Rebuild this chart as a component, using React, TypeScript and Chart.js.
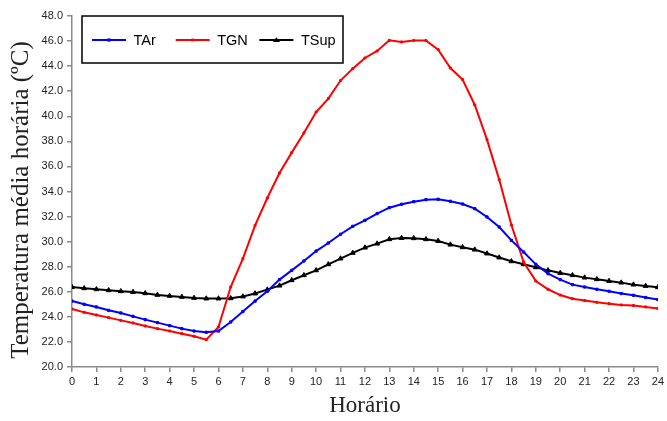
import React, { useEffect, useRef } from 'react';
import { Chart, registerables } from 'chart.js';

Chart.register(...registerables);

const hours = [0, 0.5, 1, 1.5, 2, 2.5, 3, 3.5, 4, 4.5, 5, 5.5, 6, 6.5, 7, 7.5, 8, 8.5, 9, 9.5, 10, 10.5, 11, 11.5, 12, 12.5, 13, 13.5, 14, 14.5, 15, 15.5, 16, 16.5, 17, 17.5, 18, 18.5, 19, 19.5, 20, 20.5, 21, 21.5, 22, 22.5, 23, 23.5, 24];

const tAr = [25.26, 25.0, 24.79, 24.52, 24.31, 24.04, 23.78, 23.54, 23.3, 23.06, 22.87, 22.77, 22.87, 23.59, 24.42, 25.26, 26.04, 26.97, 27.71, 28.46, 29.25, 29.89, 30.59, 31.22, 31.7, 32.24, 32.71, 32.98, 33.19, 33.35, 33.38, 33.22, 33.0, 32.63, 31.97, 31.17, 30.1, 29.17, 28.19, 27.45, 26.97, 26.57, 26.38, 26.2, 26.04, 25.86, 25.72, 25.54, 25.38];

const tGN = [24.63, 24.36, 24.15, 23.94, 23.72, 23.51, 23.27, 23.06, 22.87, 22.66, 22.45, 22.18, 23.19, 26.38, 28.64, 31.3, 33.48, 35.48, 37.1, 38.67, 40.34, 41.41, 42.85, 43.8, 44.65, 45.21, 46.06, 45.93, 46.04, 46.04, 45.32, 43.85, 42.93, 40.9, 38.14, 34.95, 31.33, 28.38, 26.86, 26.2, 25.74, 25.45, 25.3, 25.16, 25.05, 24.95, 24.9, 24.79, 24.66];

const tSup = [26.38, 26.28, 26.2, 26.12, 26.04, 25.98, 25.88, 25.75, 25.67, 25.59, 25.51, 25.46, 25.46, 25.48, 25.62, 25.86, 26.17, 26.49, 26.92, 27.32, 27.71, 28.19, 28.65, 29.1, 29.52, 29.84, 30.19, 30.29, 30.27, 30.19, 30.05, 29.76, 29.55, 29.36, 29.05, 28.73, 28.43, 28.19, 27.95, 27.71, 27.5, 27.32, 27.13, 27.0, 26.86, 26.73, 26.57, 26.46, 26.36];

const seriesNames = ['TAr', 'TGN', 'TSup'];
const xTitle = 'Horário';
const yTitle = 'Temperatura média horária (ºC)';

const SANS = '"Liberation Sans", Arial, sans-serif';
const SERIF = '"Liberation Serif", "Times New Roman", serif';
const AXIS_GREY = '#8a8a8a';

function drawMarker(ctx: CanvasRenderingContext2D, style: string, r: number, x: number, y: number) {
  ctx.beginPath();
  if (style === 'triangle') {
    const h = r * 1.5;
    ctx.moveTo(x, y - h * 0.66);
    ctx.lineTo(x + r * 1.3, y + h * 0.5);
    ctx.lineTo(x - r * 1.3, y + h * 0.5);
    ctx.closePath();
    ctx.fill();
  } else {
    ctx.rect(x - r, y - r, r * 2, r * 2);
    ctx.fill();
  }
}

const decorPlugin = {
  id: 'decor',
  afterDraw(chart: any) {
    const ctx: CanvasRenderingContext2D = chart.ctx;
    const area = chart.chartArea;
    // y axis title
    ctx.save();
    ctx.fillStyle = '#222222';
    ctx.font = '25px ' + SERIF;
    ctx.textAlign = 'center';
    ctx.textBaseline = 'middle';
    ctx.translate(21, 200);
    ctx.rotate(-Math.PI / 2);
    ctx.fillText(yTitle, 0, 0);
    ctx.restore();

    // legend box
    const x0 = area.left + 10;
    const y0 = area.top;
    const w = 261;
    const h = 47;
    ctx.save();
    ctx.fillStyle = '#ffffff';
    ctx.fillRect(x0, y0, w, h);
    ctx.lineWidth = 1.5;
    ctx.strokeStyle = '#000000';
    ctx.strokeRect(x0, y0, w, h);
    const cy = y0 + 24;
    ctx.font = '14.5px ' + SANS;
    ctx.textBaseline = 'middle';
    ctx.textAlign = 'left';
    chart.data.datasets.forEach((ds: any, i: number) => {
      const lx = x0 + 10 + i * 83.7;
      ctx.strokeStyle = ds.borderColor;
      ctx.lineWidth = 2;
      ctx.beginPath();
      ctx.moveTo(lx, cy);
      ctx.lineTo(lx + 34, cy);
      ctx.stroke();
      ctx.fillStyle = ds.borderColor;
      drawMarker(ctx, ds.pointStyle, ds.pointRadius, lx + 17, cy);
      ctx.fillStyle = '#000000';
      ctx.fillText(ds.label, lx + 41.5, cy + 0.5);
    });
    ctx.restore();
  },
};

export default function App() {
  const ref = useRef<HTMLCanvasElement | null>(null);

  useEffect(() => {
    document.body.style.margin = '0';
    const canvas = ref.current;
    if (!canvas) return;
    const mk = (values: number[]) => hours.map((h, i) => ({ x: h, y: values[i] }));
    const chart = new Chart(canvas, {
      type: 'line',
      data: {
        datasets: [
          {
            label: seriesNames[0],
            data: mk(tAr),
            borderColor: '#0000ff',
            backgroundColor: '#0000ff',
            borderWidth: 2,
            pointStyle: 'rect',
            pointRadius: 1.6,
            pointBorderWidth: 1,
            tension: 0,
          },
          {
            label: seriesNames[1],
            data: mk(tGN),
            borderColor: '#ff0000',
            backgroundColor: '#ff0000',
            borderWidth: 2,
            pointStyle: 'rect',
            pointRadius: 1.4,
            pointBorderWidth: 1,
            tension: 0,
          },
          {
            label: seriesNames[2],
            data: mk(tSup),
            borderColor: '#000000',
            backgroundColor: '#000000',
            borderWidth: 2,
            pointStyle: 'triangle',
            pointRadius: 2.8,
            pointBorderWidth: 1,
            tension: 0,
          },
        ],
      },
      options: {
        responsive: false,
        animation: false,
        layout: { padding: { left: 0, right: 8, top: 16, bottom: 0 } },
        plugins: {
          legend: { display: false },
          tooltip: { enabled: false },
        },
        scales: {
          x: {
            type: 'linear',
            min: 0,
            max: 24,
            afterFit: (scale: any) => {
              scale.height = 54;
            },
            ticks: {
              stepSize: 1,
              autoSkip: false,
              maxRotation: 0,
              padding: 3,
              color: '#222222',
              font: { family: SANS, size: 11 },
            },
            grid: {
              display: true,
              drawOnChartArea: false,
              drawTicks: true,
              tickLength: 5,
              color: AXIS_GREY,
              lineWidth: 1.5,
            },
            border: { display: true, color: AXIS_GREY, width: 1.5 },
            title: {
              display: true,
              text: xTitle,
              color: '#222222',
              font: { family: SERIF, size: 23 },
              padding: { top: 4, bottom: 1 },
            },
          },
          y: {
            type: 'linear',
            min: 20,
            max: 48,
            afterFit: (scale: any) => {
              scale.width = 72;
            },
            ticks: {
              stepSize: 2,
              padding: 4,
              color: '#222222',
              font: { family: SANS, size: 11 },
              callback: (v: any) => Number(v).toFixed(1),
            },
            grid: {
              display: true,
              drawOnChartArea: false,
              drawTicks: true,
              tickLength: 5,
              color: AXIS_GREY,
              lineWidth: 1.5,
            },
            border: { display: true, color: AXIS_GREY, width: 1.5 },
            title: { display: false },
          },
        },
      },
      plugins: [decorPlugin],
    } as any);
    return () => chart.destroy();
  }, []);

  return (
    <div style={{ width: 667, height: 421 }}>
      <canvas ref={ref} width={667} height={421} style={{ display: 'block' }} />
    </div>
  );
}
